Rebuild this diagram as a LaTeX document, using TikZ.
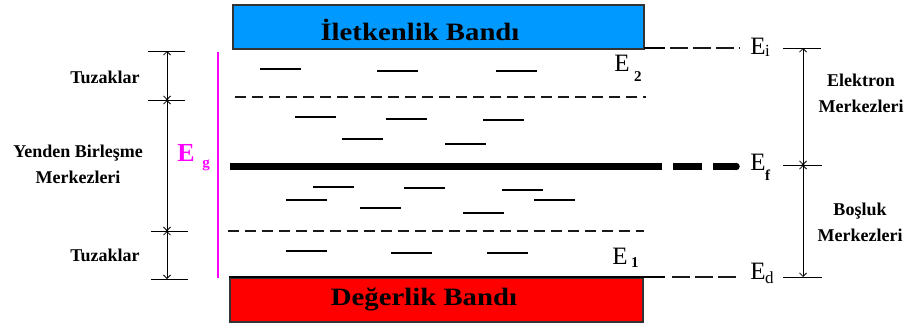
\documentclass[tikz,border=0pt]{standalone}
\usepackage{fontspec}
\setmainfont{Liberation Serif}
\usepackage{graphicx}
\usetikzlibrary{arrows.meta}
\definecolor{condblue}{RGB}{0,153,255}
\definecolor{valred}{RGB}{255,0,0}
\definecolor{gapmag}{RGB}{255,0,255}
\newcommand{\bandtext}[1]{\scalebox{1.15}[1]{\bfseries\fontsize{25}{27}\selectfont #1}}
\begin{document}
\begin{tikzpicture}[x=1pt,y=-1pt,
  bandbox/.style={draw=black!80, line width=1.3pt, inner sep=0pt},
  trap/.style={line width=1.2pt, black},
  border/.style={line width=1.1pt, black!90, dash pattern=on 11pt off 6pt},
  extline/.style={line width=1.1pt, black!90, dash pattern=on 18pt off 5pt},
  tickline/.style={line width=1pt},
  dimline/.style={line width=0.8pt, {Straight Barb[length=3.5pt,width=7pt]}-{Straight Barb[length=3.5pt,width=7pt]}},
  lbl/.style={font=\bfseries\fontsize{18}{26}\selectfont, align=center, inner sep=0pt},
  elab/.style={font=\fontsize{25}{25}\selectfont, inner sep=0pt},
  esub/.style={font=\fontsize{17}{17}\selectfont, inner sep=0pt},
  esubb/.style={font=\bfseries\fontsize{15}{15}\selectfont, inner sep=0pt},
  dot/.style={circle, fill=black, inner sep=0pt, minimum size=3pt}
]
\useasboundingbox (0,0) rectangle (912,324);

% conduction and valence bands
\path[bandbox, fill=condblue] (233,5) rectangle (644,49);
\node[inner sep=0pt] (cbtext) at (420,30) {\bandtext{İletkenlik Bandı}};
\path[bandbox, fill=valred] (230,278) rectangle (643,322);
\node[inner sep=0pt] (vbtext) at (424,299) {\bandtext{Değerlik Bandı}};

% reference levels
\coordinate (ei0) at (644,48);
\coordinate (ei1) at (665,48);
\coordinate (ei2) at (670,48);
\coordinate (ei3) at (740,48);
\draw[trap] (ei0) -- (ei1);
\draw[extline] (ei2) -- (ei3);

\coordinate (ed0) at (229,277);
\coordinate (ed1) at (665,277);
\coordinate (ed2) at (672,277);
\coordinate (ed3) at (740,277);
\draw[trap] (ed0) -- (ed1);
\draw[extline] (ed2) -- (ed3);

% Fermi level
\coordinate (ef0) at (230,166.5);
\coordinate (ef1) at (662,166.5);
\coordinate (ef2) at (673,166.5);
\coordinate (ef3) at (702,166.5);
\coordinate (ef4) at (713,166.5);
\coordinate (ef5) at (736,166.5);
\draw[line width=7.5pt] (ef0) -- (ef1);
\draw[line width=7.5pt] (ef2) -- (ef3);
\draw[line width=7.5pt] (ef4) -- (ef5);
\fill (ef5) circle[radius=3.75];

% trap region boundaries
\coordinate (tb0) at (235,97);
\coordinate (tb1) at (646,97);
\coordinate (bb0) at (228,231);
\coordinate (bb1) at (644,231);
\draw[border] (tb0) -- (tb1);
\draw[border] (bb0) -- (bb1);

% localized states
\foreach \xa/\ya in {260/69, 377/71, 496/71,
                     295/117, 386/119, 483/120, 342/139, 445/144,
                     313/187, 404/188, 502/190, 286/200, 534/200, 360/208, 463/213,
                     286/251, 391/253, 487/253}
  \draw[trap] (\xa,\ya) -- ++(41,0);

% level labels
\node[elab] (E2) at (622,63) {E};
\node[esubb, anchor=west] (E2s) at (634,77) {2};
\node[elab] (E1) at (620,256) {E};
\node[esubb, anchor=west] (E1s) at (631,263) {1};
\node[elab] (Ei) at (758,46) {E};
\node[esub, anchor=west] (Eis) at (765,51) {i};
\node[elab] (Ef) at (758,162) {E};
\node[esubb, anchor=west] (Efs) at (765,175) {f};
\node[elab] (Ed) at (758,271) {E};
\node[esub, anchor=west] (Eds) at (765,278) {d};

% band gap marker
\coordinate (g0) at (218,52);
\coordinate (g1) at (218,278);
\draw[gapmag, line width=1.5pt] (g0) -- (g1);
\node[font=\bfseries\fontsize{26}{26}\selectfont, text=gapmag, inner sep=0pt] (Eg) at (186,153) {E};
\node[font=\bfseries\fontsize{15}{15}\selectfont, text=gapmag, inner sep=0pt] (Egs) at (206,165) {g};

% left dimensions
\coordinate (la) at (167,51);
\coordinate (lb) at (167,100);
\coordinate (lc) at (167,231);
\coordinate (ld) at (167,279);
\draw[tickline] (148,51) -- (185,51);
\draw[tickline] (148,100) -- (185,100);
\draw[tickline] (151,231) -- (188,231);
\draw[tickline] (151,279) -- (188,279);
\draw[dimline] (la) -- (lb);
\draw[dimline] (lb) -- (lc);
\draw[dimline] (lc) -- (ld);
\node[dot] at (lb) {};
\node[dot] at (lc) {};

\node[lbl] (t1) at (105,77) {Tuzaklar};
\node[lbl] (rc) at (78,164) {Yenden Birleşme\\Merkezleri};
\node[lbl] (t2) at (105,255) {Tuzaklar};

% right dimensions
\coordinate (ra) at (803,48);
\coordinate (rb) at (803,165);
\coordinate (rc2) at (803,277);
\draw[tickline] (783,48) -- (821,48);
\draw[tickline] (783,165) -- (822,165);
\draw[tickline] (783,277) -- (822,277);
\draw[dimline] (ra) -- (rb);
\draw[dimline] (rb) -- (rc2);
\node[dot] at (rb) {};

\node[lbl] (el) at (861,93) {Elektron\\Merkezleri};
\node[lbl] (bo) at (860,222) {Boşluk\\Merkezleri};
\end{tikzpicture}
\end{document}
